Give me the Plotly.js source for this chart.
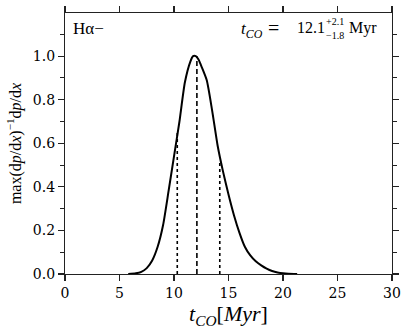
<!DOCTYPE html>
<html>
<head>
<meta charset="utf-8">
<script src="https://cdn.plot.ly/plotly-3.0.1.min.js"></script>
<style>
  html, body { margin: 0; padding: 0; background: #fff; }
  #chart { width: 408px; height: 333px; }
</style>
</head>
<body>
<div id="chart"></div>
<script>
// normalised PDF of t_CO
const tco = [5.8, 6.5, 7.0, 7.5, 8.0, 8.5, 9.0, 9.5, 10.0, 10.5, 11.0, 11.5, 11.75, 12.0, 12.25, 12.5, 13.0, 13.5, 14.0, 14.5, 15.0, 15.5, 16.0, 16.5, 17.0, 17.5, 18.0, 18.5, 19.0, 19.5, 20.0, 20.5, 21.3];
const pdf = [0.0, 0.003, 0.01, 0.027, 0.062, 0.125, 0.225, 0.38, 0.54, 0.70, 0.88, 0.975, 1.0, 1.0, 0.985, 0.955, 0.89, 0.75, 0.59, 0.47, 0.365, 0.27, 0.19, 0.125, 0.085, 0.058, 0.04, 0.025, 0.014, 0.007, 0.003, 0.001, 0.0];

// median and 1-sigma bounds
const median = 12.1;
const medianHeight = 1.0;
const bounds = [10.3, 14.2];
const boundHeights = [0.65, 0.51];

const xTicks = [0, 5, 10, 15, 20, 25, 30];
const yTicks = [0, 0.2, 0.4, 0.6, 0.8, 1.0];

const serif = '"Liberation Serif", "DejaVu Serif", serif';
const tickSerif = '"DejaVu Serif", serif';

const traces = [
    {
        x: tco, y: pdf, mode: 'lines', type: 'scatter',
        line: { color: '#000', width: 2, shape: 'spline', smoothing: 0.6 },
        hoverinfo: 'skip'
    },
    {
        x: [median, median], y: [0, medianHeight], mode: 'lines',
        line: { color: '#000', width: 1.6, dash: '5px,3px' }
    },
    {
        x: [bounds[0], bounds[0]], y: [0, boundHeights[0]], mode: 'lines',
        line: { color: '#000', width: 1.6, dash: 'dot' }
    },
    {
        x: [bounds[1], bounds[1]], y: [0, boundHeights[1]], mode: 'lines',
        line: { color: '#000', width: 1.6, dash: 'dot' }
    }
];

const axisCommon = {
    showgrid: false, zeroline: false,
    showline: true, linecolor: '#222', linewidth: 1.1,
    mirror: 'allticks', ticks: 'outside', ticklen: 6, tickwidth: 1.1, tickcolor: '#222',
    tickfont: { family: tickSerif, size: 14, color: '#000' }
};

// small helper for the label pieces in the top corners
function label(x, y, text, size) {
    return { xref: 'paper', yref: 'paper', x: x, y: y, xanchor: 'left', yanchor: 'top',
             text: text, showarrow: false, font: { family: serif, size: size } };
}

const layout = {
    width: 408, height: 333,
    margin: { l: 65, r: 16, t: 13, b: 59 },
    paper_bgcolor: '#fff', plot_bgcolor: '#fff',
    showlegend: false,
    font: { family: serif, color: '#000' },
    xaxis: Object.assign({}, axisCommon, {
        range: [0, 30], tickvals: xTicks,
        title: { text: '<i>t</i><sub><i>CO</i></sub>[<i>Myr</i>]', font: { family: serif, size: 22 }, standoff: 2 }
    }),
    yaxis: Object.assign({}, axisCommon, {
        range: [0, 1.198], tickvals: yTicks, tickformat: '.1f',
        minor: { dtick: 0.1, ticks: 'outside', ticklen: 3.5, tickcolor: '#222' },
        title: { text: 'max(d<i>p</i>/d<i>x</i>)<sup>−1</sup>d<i>p</i>/d<i>x</i>', font: { family: serif, size: 16 }, standoff: 7 }
    }),
    annotations: [
        label(0.018, 0.985, 'Hα−', 17),
        label(0.532, 0.985, '<i>t</i><sub><i>CO</i></sub>', 17),
        label(0.614, 0.992, '=', 20),
        label(0.703, 0.985, '12.1', 16),
        label(0.792, 0.995, '+2.1', 10),
        label(0.792, 0.942, '−1.8', 10),
        label(0.862, 0.985, 'Myr', 16)
    ]
};

Plotly.newPlot('chart', traces, layout, { staticPlot: true, displayModeBar: false });
</script>
</body>
</html>
